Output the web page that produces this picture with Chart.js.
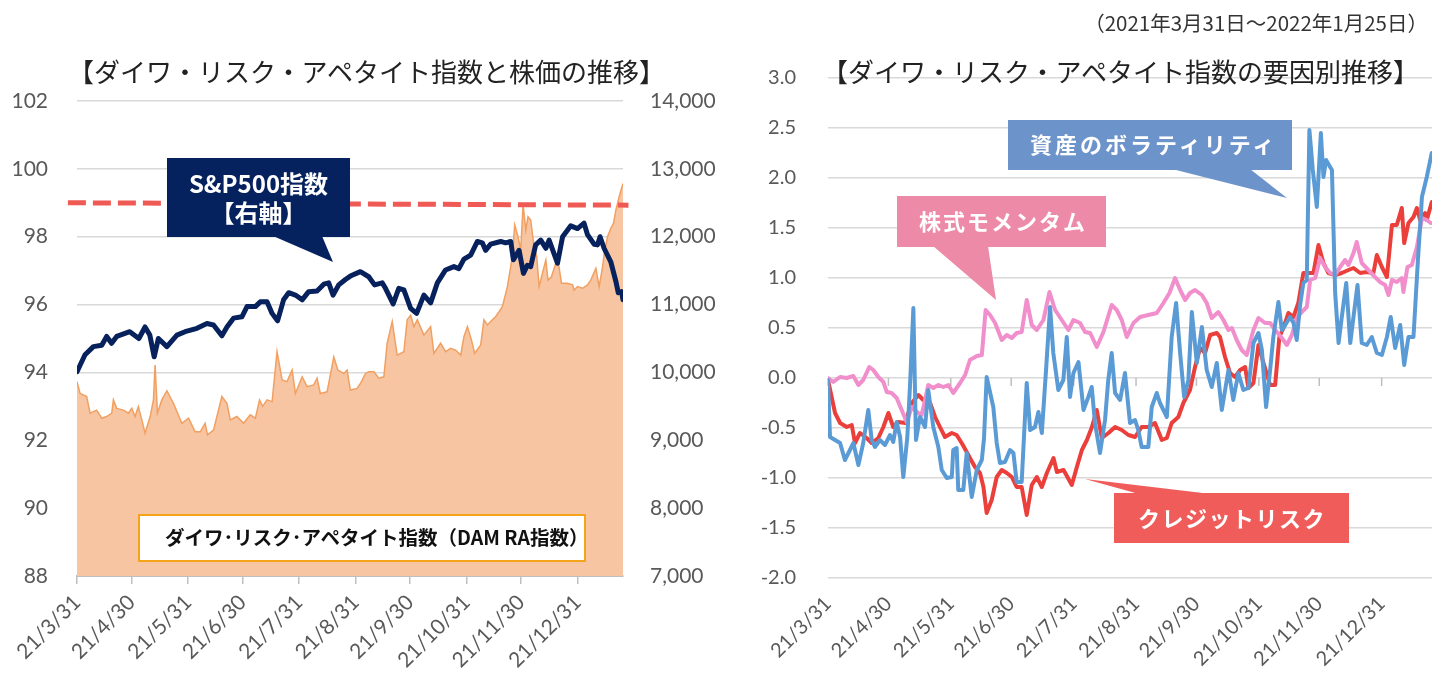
<!DOCTYPE html>
<html><head><meta charset="utf-8">
<script src="https://cdn.jsdelivr.net/npm/chart.js@4.4.1/dist/chart.umd.min.js"></script>
<style>
html,body{margin:0;padding:0;background:#fff;}
#wrap{position:relative;width:1440px;height:688px;overflow:hidden;font-family:"Noto Sans CJK JP",sans-serif;}
canvas{position:absolute;top:0;}
#c1{left:0;}
#c2{left:740px;}
.title{position:absolute;top:51px;font-size:26px;line-height:40px;color:#222;white-space:nowrap;}
#note{position:absolute;top:7px;right:12px;font-size:20.5px;line-height:30px;color:#333;white-space:nowrap;}
svg{position:absolute;left:0;top:0;font-family:"Noto Sans CJK JP",sans-serif;}
</style></head>
<body><div id="wrap">
<canvas id="c1" width="740" height="688"></canvas>
<canvas id="c2" width="700" height="688"></canvas>
<div id="note">（2021年3月31日～2022年1月25日）</div>
<div class="title" style="left:68px">【ダイワ・リスク・アペタイト指数と株価の推移】</div>
<div class="title" style="left:822px">【ダイワ・リスク・アペタイト指数の要因別推移】</div>
<svg width="1440" height="688">
 <rect x="167" y="158" width="183" height="79" fill="#05215E"/>
 <polygon points="273,236 322,236 333,262" fill="#05215E"/>
 <text x="258.5" y="193" text-anchor="middle" font-size="24" font-weight="700" fill="#fff">S&amp;P500指数</text>
 <text x="258.5" y="222" text-anchor="middle" font-size="24" font-weight="700" fill="#fff">【右軸】</text>
 <rect x="139" y="515" width="446" height="46" fill="#fff" stroke="#F5A31A" stroke-width="2"/>
 <text x="165" y="545" font-size="19.5" font-weight="700" fill="#111">ダイワ･リスク･アペタイト指数（DAM RA指数）</text>
 <rect x="1008" y="120" width="284" height="50" fill="#6D93CB"/>
 <polygon points="1172,169 1250,169 1287,198" fill="#6D93CB"/>
 <text x="1030" y="153" font-size="22" font-weight="700" fill="#fff" letter-spacing="3">資産のボラティリティ</text>
 <rect x="897" y="196" width="209" height="51" fill="#EC8AA7"/>
 <polygon points="933,246 988,246 996,300" fill="#EC8AA7"/>
 <text x="919" y="230" font-size="22" font-weight="700" fill="#fff" letter-spacing="2">株式モメンタム</text>
 <rect x="1114" y="493" width="235" height="50" fill="#F05C5A"/>
 <polygon points="1085,479 1211,494 1139,494" fill="#F05C5A"/>
 <text x="1138" y="527" font-size="22" font-weight="700" fill="#fff" letter-spacing="1.5">クレジットリスク</text>
</svg>
</div>
<script>
// x values are days since 2021/3/31
const tickDays = [0,30,61,91,122,153,183,214,244,275];
const tickLabels = ['21/3/31','21/4/30','21/5/31','21/6/30','21/7/31','21/8/31','21/9/30','21/10/31','21/11/30','21/12/31'];

// Daiwa Risk Appetite index (left axis)
const damRA = [[0,93.73],[1.7,93.38],[5.3,93.29],[7.2,92.80],[10.8,92.89],[13.6,92.65],[16.3,92.70],[19.1,92.80],[20,93.19],[21.8,92.94],[25.5,92.89],[28.2,92.80],[30.1,92.94],[31.9,92.70],[33.7,92.99],[35.6,92.60],[37.4,92.21],[40.2,92.70],[42,93.19],[42.9,94.22],[44.2,92.80],[46.6,93.19],[49.4,93.46],[53,93.09],[57.6,92.50],[61.3,92.65],[64.9,92.25],[67.7,92.25],[70.4,92.50],[71.7,92.16],[75,92.30],[79.6,93.29],[82.4,93.09],[84.2,92.60],[87.9,92.70],[91.5,92.50],[95.2,92.75],[98,92.65],[100.3,93.19],[102,93.0],[104.4,93.19],[107.2,93.14],[109.9,94.61],[112.7,93.78],[115.4,93.73],[118.2,94.07],[120,93.38],[123.7,93.87],[126.4,93.58],[130,93.63],[131.9,93.83],[133.7,93.38],[137.4,93.43],[141.1,94.46],[143.3,94.07],[146.6,93.97],[148.4,94.07],[150.2,93.48],[153.9,93.53],[155.8,93.68],[158.5,93.97],[160.3,94.02],[163.1,94.02],[165.8,93.83],[168.6,93.87],[170.4,94.86],[173.2,95.50],[175.9,94.51],[179.6,94.61],[181.4,95.55],[183.3,95.69],[185.1,95.35],[187,95.55],[190.6,95.10],[194.3,95.35],[196.1,94.56],[199.8,94.86],[202.5,94.61],[205.3,94.71],[208,94.66],[210.8,94.51],[212.6,95.05],[214.5,95.35],[216.7,94.96],[218.5,94.56],[221.8,94.81],[223.6,95.55],[225.5,95.40],[228.2,95.55],[230,95.64],[231.9,95.79],[233.7,95.94],[236.5,96.53],[239.2,97.41],[240.5,98.35],[242.3,98.00],[243.8,97.61],[245.1,98.93],[246.6,98.20],[247.8,98.59],[249.3,98.49],[251.1,97.71],[252.6,97.41],[253.9,96.53],[255.7,96.92],[257.6,97.31],[258.8,96.72],[260.7,96.82],[262.5,97.12],[264,97.41],[266.2,96.63],[269.5,96.63],[272.3,96.58],[273.1,96.43],[275,96.53],[277.8,96.48],[280.5,96.58],[282.3,96.72],[285.1,97.07],[286.9,96.53],[288.8,97.12],[289.7,97.51],[291.5,98.00],[293.3,98.25],[294.8,98.40],[296.1,98.79],[297.9,99.18],[300,99.57]];

// S&P500 (right axis)
const sp500 = [[0,10010],[4.4,10260],[9,10380],[13.6,10400],[16.3,10530],[19,10430],[21.8,10530],[29,10600],[34,10500],[37.4,10670],[40,10550],[42.4,10230],[44.7,10500],[49.4,10380],[54.9,10550],[59.4,10600],[65.9,10650],[71.4,10720],[75,10700],[79.6,10540],[82.4,10670],[86,10800],[90.6,10820],[93.4,10970],[98,10970],[100.7,11040],[104.4,11040],[107.2,10870],[110.2,10760],[113.5,11070],[116.3,11175],[120,11140],[123.7,11070],[127.3,11190],[131.9,11200],[135.6,11300],[138.3,11320],[140.7,11140],[143.8,11290],[147.5,11370],[150.2,11420],[155.7,11485],[160.3,11410],[163.5,11290],[167.7,11320],[169.5,11240],[173.7,11010],[176.8,11240],[179.6,11215],[183.3,10945],[186.6,10870],[190.6,11140],[194.3,11025],[198,11320],[202.5,11510],[207.1,11560],[209.8,11530],[212.6,11670],[216.3,11730],[220,11930],[222.7,11910],[224.5,11800],[227.3,11890],[232.8,11930],[235.5,11910],[238.3,11930],[239.8,11660],[242.9,11800],[245.3,11460],[247.5,11580],[249.3,11560],[252,11880],[254.8,11950],[257.6,11830],[259.4,11950],[264,11610],[266.8,12000],[271.3,12160],[275,12120],[278.6,12200],[280.5,12030],[284.1,11890],[286,11880],[287.4,12000],[289.6,11830],[293.3,11630],[296.1,11340],[297.4,11175],[299.2,11190],[300,11070]];

// dashed reference line (left axis)
const dashLine = [[-5,99.0],[303,98.93]];

// factor contributions (right chart)
const creditRisk = [[0,-0.02],[3.5,-0.35],[6,-0.45],[9.3,-0.49],[11.8,-0.47],[13.4,-0.65],[15.9,-0.55],[19.2,-0.60],[21.7,-0.65],[25,-0.60],[27.5,-0.49],[30,-0.35],[32.4,-0.49],[34.9,-0.44],[38.3,-0.45],[41.6,-0.25],[44.9,-0.17],[47.3,-0.22],[50.7,-0.25],[53.2,-0.39],[55.6,-0.49],[58.1,-0.59],[61.5,-0.55],[63.9,-0.57],[66.4,-0.65],[68.9,-0.74],[70.5,-0.80],[73,-0.89],[75.5,-0.95],[77.2,-1.09],[78.8,-1.35],[81.3,-1.22],[83.8,-0.99],[86.3,-0.92],[88.8,-0.95],[91.3,-0.99],[93.7,-1.09],[96.2,-1.09],[98.7,-1.37],[101.2,-1.07],[103.7,-0.99],[106.2,-1.09],[108.7,-0.95],[112,-0.80],[113.7,-0.94],[117,-0.92],[121.1,-1.07],[123.6,-0.89],[126.1,-0.72],[128.6,-0.62],[131.1,-0.49],[133.5,-0.32],[136,-0.60],[139.3,-0.55],[142.6,-0.49],[145.9,-0.52],[149.2,-0.57],[152.5,-0.59],[155.8,-0.49],[159.1,-0.49],[162.4,-0.45],[165.8,-0.62],[168.3,-0.60],[170.7,-0.45],[174,-0.39],[176.5,-0.25],[179.8,-0.12],[182.3,0.11],[184.8,0.30],[187.3,0.25],[189.8,0.43],[193.1,0.45],[194.7,0.41],[197.2,0.21],[199.7,0.05],[202.2,0.01],[204.7,0.08],[207.2,0.11],[208.8,-0.10],[211.3,-0.05],[213.8,0.33],[216.3,0.15],[219.6,-0.07],[222.1,-0.07],[224.2,0.41],[226.2,0.50],[228.7,0.65],[231.2,0.61],[233.6,0.75],[236.1,1.05],[238.6,1.05],[241.1,1.05],[243.6,1.33],[246.1,1.15],[248.5,1.05],[251.9,1.03],[255.2,1.05],[258.5,1.08],[261,1.10],[264.3,1.05],[267.6,1.06],[270.9,1.05],[272.6,1.23],[275.1,1.11],[277.6,1.01],[280.1,1.53],[282.5,1.53],[285,1.70],[286.2,1.35],[288.3,1.55],[290.8,1.61],[292.5,1.70],[294.1,1.58],[296.6,1.65],[297.4,1.58],[299.9,1.76]];

const volatility = [[0,-0.02],[1,-0.59],[3.5,-0.62],[6,-0.65],[8.4,-0.82],[10.9,-0.72],[12.6,-0.65],[15.1,-0.87],[17.5,-0.65],[20,-0.32],[21.7,-0.62],[23.3,-0.69],[25.8,-0.62],[28.3,-0.67],[30.8,-0.57],[32.4,-0.64],[34.1,-0.44],[35.8,-0.59],[37.4,-0.99],[39.4,-0.59],[40.7,-0.09],[42.4,0.70],[43.7,-0.62],[45.7,-0.39],[48.2,-0.49],[49.8,-0.12],[52.3,-0.49],[54.8,-0.69],[56.5,-0.92],[59,-1.00],[61.5,-0.99],[62.2,-0.72],[63.9,-0.70],[64.7,-1.12],[67.2,-1.12],[68.9,-0.75],[71.4,-1.19],[73.9,-0.92],[76.4,-0.82],[77.5,-0.60],[78.8,0.01],[82.1,-0.29],[83.8,-0.65],[85.4,-0.85],[87.9,-0.84],[90.4,-0.72],[92.1,-0.75],[93.7,-1.04],[96.2,-1.04],[98.7,-0.05],[100.4,-0.52],[102.8,-0.49],[104.5,-0.34],[106.2,-0.55],[108.3,0.08],[110.3,0.71],[111.9,0.25],[114.4,-0.12],[116.9,-0.02],[118.6,0.41],[120.2,-0.19],[121.9,0.05],[124.4,0.16],[126.9,-0.32],[129.3,-0.19],[131,-0.09],[132.6,-0.45],[135.1,-0.75],[137.6,-0.42],[139.2,-0.02],[140.9,0.25],[142.6,-0.15],[145.1,-0.22],[147.5,0.05],[150,-0.45],[152.5,-0.42],[154.1,-0.52],[155.8,-0.69],[159.1,-0.69],[160.8,-0.29],[163.3,-0.15],[164.9,-0.25],[168.3,-0.39],[170.7,0.41],[172.9,0.75],[174.9,0.25],[176.9,-0.19],[179,-0.02],[180.7,0.66],[183.2,0.15],[185.7,0.51],[188.1,0.08],[190.6,-0.09],[193.1,0.15],[195.6,-0.32],[198.9,0.08],[201.3,-0.22],[203.8,0.05],[206.3,-0.12],[208.8,-0.10],[211.3,0.35],[213.8,0.45],[215.5,0.28],[217.6,-0.29],[219.6,0.08],[221.2,0.41],[223.7,0.76],[225.4,0.48],[227.1,0.53],[229.5,0.61],[231.2,0.55],[232.8,0.38],[234.5,0.73],[236.1,0.95],[237.8,0.98],[239.1,2.48],[240.8,2.08],[242.8,1.71],[244.8,2.45],[246.1,2.01],[247.4,2.18],[249.4,2.11],[250.3,2.08],[251.9,0.85],[253.6,0.35],[255.2,0.61],[257.4,0.95],[259.4,0.35],[261,0.61],[263,0.93],[265.1,0.35],[267.6,0.33],[270.1,0.41],[272.6,0.25],[275.1,0.23],[277.6,0.41],[279.5,0.61],[281.7,0.30],[284.2,0.53],[286.2,0.13],[288.3,0.41],[290.8,0.41],[292.8,1.11],[295,1.81],[297.4,2.01],[299.9,2.25]];

const momentum = [[0,0.00],[2.6,-0.04],[6,0.01],[9.3,0.00],[12.6,0.02],[15.1,-0.07],[17.5,-0.02],[20.5,0.11],[22.5,0.08],[25,0.01],[27.5,-0.04],[29.2,-0.14],[31.6,-0.15],[34.1,-0.20],[36.6,-0.32],[39.1,-0.44],[41.6,-0.29],[44.1,-0.34],[46.5,-0.37],[48.2,-0.22],[49.8,-0.07],[52.3,-0.10],[54.8,-0.07],[57.3,-0.09],[59.8,-0.07],[62.2,-0.15],[65.6,-0.05],[68.1,0.03],[70.5,0.18],[73.9,0.22],[76.4,0.23],[78.3,0.68],[80.5,0.63],[83,0.55],[86.3,0.38],[88.8,0.43],[91.3,0.40],[93.7,0.45],[96.2,0.46],[98.7,0.78],[101.2,0.53],[103.7,0.48],[107,0.58],[110,0.86],[112.8,0.68],[116.1,0.58],[119.4,0.48],[121.9,0.58],[125.2,0.55],[127.7,0.46],[130.2,0.45],[133.5,0.31],[136.8,0.46],[140.9,0.73],[143.4,0.68],[145.9,0.58],[148.4,0.41],[151.7,0.55],[155,0.61],[159.1,0.63],[163.3,0.65],[166.6,0.75],[169.6,0.85],[172.4,1.00],[174.9,0.88],[177.4,0.78],[179.8,0.85],[182.3,0.88],[185.7,0.83],[188.1,0.75],[190.6,0.60],[193.9,0.66],[196.4,0.58],[198.9,0.48],[200.6,0.50],[203,0.38],[205.5,0.28],[208,0.23],[211.3,0.48],[213.8,0.60],[217.1,0.55],[219.6,0.55],[222.1,0.48],[225.4,0.40],[227.9,0.33],[230.4,0.43],[232.8,0.60],[235.3,0.66],[237.8,0.71],[239.5,0.98],[242,1.00],[244.4,1.20],[246.9,1.11],[249.4,1.05],[251.9,1.03],[254.4,1.11],[256.8,1.18],[258.5,1.13],[261,1.25],[262.6,1.36],[265.1,1.15],[268.4,1.08],[271.7,1.01],[274.2,0.96],[276.7,0.93],[278.4,0.83],[280.1,0.98],[282.5,0.96],[285,1.00],[285.8,0.86],[287.8,1.11],[290,1.13],[292.5,1.31],[295,1.60],[297.4,1.58],[299.4,1.55]];

const pts = a => a.map(p => ({x: p[0], y: p[1]}));

Chart.defaults.font.family = "Lato, 'Noto Sans CJK JP', sans-serif";
Chart.defaults.color = '#595959';

const xTicks = s => { s.ticks = tickDays.map(v => ({value: v})); };

new Chart(document.getElementById('c1'), {
  type: 'line',
  data: { datasets: [
    { data: pts(sp500), yAxisID: 'y2', borderColor: '#06215C', borderWidth: 5, pointRadius: 0, fill: false, tension: 0, borderJoinStyle: 'round', borderCapStyle: 'round' },
    { data: pts(dashLine), yAxisID: 'y', borderColor: '#F05A55', borderWidth: 5, borderDash: [18, 7], pointRadius: 0, fill: false, clip: false },
    { data: pts(damRA), yAxisID: 'y', borderColor: '#F1A061', borderWidth: 1.5, backgroundColor: '#F7C5A2', fill: 'start', pointRadius: 0, tension: 0 }
  ]},
  options: {
    responsive: false, animation: false, devicePixelRatio: 1,
    layout: { padding: { top: 101, left: 0, right: 0, bottom: 0 } },
    plugins: { legend: { display: false }, tooltip: { enabled: false } },
    scales: {
      x: { type: 'linear', min: 0, max: 300, afterBuildTicks: xTicks,
        ticks: { autoSkip: false, maxRotation: 45, minRotation: 45, padding: 6, font: { size: 21 }, color: '#595959', callback: (v, i) => tickLabels[i] },
        grid: { drawOnChartArea: false, tickLength: 8, color: '#BFBFBF', lineWidth: 1.5 },
        border: { display: true, color: '#BFBFBF', width: 2 },
        afterFit: s => { s.height = 112; } },
      y: { position: 'left', min: 88, max: 102,
        ticks: { stepSize: 2, padding: 29, font: { size: 21 }, color: '#595959' },
        grid: { color: '#D9D9D9', lineWidth: 1.5, drawTicks: false },
        border: { display: false },
        afterFit: s => { s.width = 77; } },
      y2: { position: 'right', min: 7000, max: 14000,
        ticks: { stepSize: 1000, padding: 27, font: { size: 21 }, color: '#595959', callback: v => v.toLocaleString('en-US') },
        grid: { drawOnChartArea: false, drawTicks: false },
        border: { display: false },
        afterFit: s => { s.width = 117; } }
    }
  }
});

const zeroTicks = {
  id: 'zeroTicks',
  beforeDatasetsDraw(chart) {
    const { ctx, scales: { x, y } } = chart;
    const y0 = y.getPixelForValue(0);
    ctx.save();
    ctx.strokeStyle = '#BFBFBF';
    ctx.lineWidth = 1.5;
    tickDays.forEach(d => {
      const px = x.getPixelForValue(d);
      ctx.beginPath(); ctx.moveTo(px, y0); ctx.lineTo(px, y0 + 8); ctx.stroke();
    });
    ctx.restore();
  }
};

const lineDs = (data, color) => ({ data: pts(data), borderColor: color, borderWidth: 4, pointRadius: 0, fill: false, tension: 0, borderJoinStyle: 'round', borderCapStyle: 'round' });

new Chart(document.getElementById('c2'), {
  type: 'line',
  data: { datasets: [
    lineDs(volatility, '#5B9BD5'),
    lineDs(momentum, '#F08FCB'),
    lineDs(creditRisk, '#EB3F3B')
  ]},
  options: {
    responsive: false, animation: false, devicePixelRatio: 1,
    layout: { padding: { top: 78, right: 8, left: 0, bottom: 0 } },
    plugins: { legend: { display: false }, tooltip: { enabled: false } },
    scales: {
      x: { type: 'linear', min: 0, max: 300, afterBuildTicks: xTicks,
        ticks: { autoSkip: false, maxRotation: 45, minRotation: 45, padding: 14, font: { size: 20 }, color: '#595959', callback: (v, i) => tickLabels[i] },
        grid: { display: false, drawTicks: false },
        border: { display: false },
        afterFit: s => { s.height = 110; } },
      y: { min: -2, max: 3,
        ticks: { stepSize: 0.5, padding: 32, font: { size: 20 }, color: '#595959', callback: v => Number(v).toFixed(1) },
        grid: { color: '#D9D9D9', lineWidth: 1.5, drawTicks: false },
        border: { display: false },
        afterFit: s => { s.width = 88; } }
    }
  },
  plugins: [zeroTicks]
});
</script>
</body></html>
